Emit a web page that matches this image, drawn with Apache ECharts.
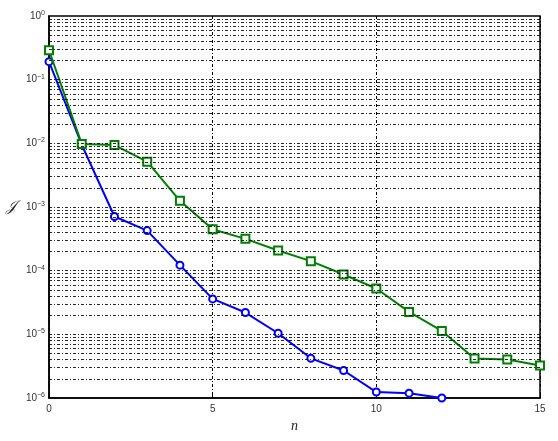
<!DOCTYPE html>
<html>
<head>
<meta charset="utf-8">
<script src="https://cdn.jsdelivr.net/npm/echarts@6/dist/echarts.min.js"></script>
<style>
html,body{margin:0;padding:0;background:#fff;}
#c{width:558px;height:441px;}
</style>
</head>
<body>
<div id="c"></div>
<script>
var nValues = [0,1,2,3,4,5,6,7,8,9,10,11,12,13,14,15];
var blueJ = [0.192, 0.0095, 7.1e-4, 4.26e-4, 1.22e-4, 3.6e-5, 2.2e-5, 1.04e-5, 4.2e-6, 2.7e-6, 1.24e-6, 1.19e-6, 1.0e-6];
var greenJ = [0.29, 0.0098, 0.0094, 0.00516, 1.25e-3, 4.48e-4, 3.16e-4, 2.07e-4, 1.41e-4, 8.7e-5, 5.24e-5, 2.25e-5, 1.13e-5, 4.17e-6, 4.02e-6, 3.24e-6];
var yExponents = [0,-1,-2,-3,-4,-5,-6];
var xTicks = [0,5,10,15];

var gridLevels = [];
for (var d = -6; d <= -1; d++) {
  for (var m = 1; m <= 9; m++) {
    if (d === -6 && m === 1) continue;
    gridLevels.push(Number((m * Math.pow(10, d)).toPrecision(3)));
  }
}
var dashDot = [3, 2, 1, 2];

var chart = echarts.init(document.getElementById('c'));
chart.setOption({
  animation: false,
  backgroundColor: '#fff',
  grid: {left: 49, right: 18, top: 16, bottom: 43, show: true, borderColor: '#000', borderWidth: 1.5, backgroundColor: 'transparent'},
  xAxis: {
    type: 'value', min: 0, max: 15, interval: 5,
    name: 'n', nameLocation: 'middle', nameGap: 17,
    nameTextStyle: {fontFamily: 'Liberation Serif', fontStyle: 'italic', fontSize: 14, color: '#222'},
    axisLine: {show: true, lineStyle: {color: '#000', width: 1.5}},
    axisTick: {show: true, inside: true, length: 4, lineStyle: {color: '#000'}},
    axisLabel: {fontFamily: 'Liberation Sans', fontSize: 10, color: '#333', margin: 6,
      formatter: function (v) { return xTicks.indexOf(v) >= 0 ? String(v) : ''; }},
    splitLine: {show: true, lineStyle: {color: '#000', width: 1, type: dashDot}}
  },
  yAxis: {
    type: 'log', logBase: 10, min: 1e-6, max: 1,
    name: '\uD835\uDCA5', nameLocation: 'middle', nameGap: 33, nameRotate: 0,
    nameTextStyle: {fontFamily: 'DejaVu Serif', fontStyle: 'italic', fontSize: 15, color: '#222'},
    axisLine: {show: true, lineStyle: {color: '#000', width: 1.5}},
    axisTick: {show: false},
    splitLine: {show: false},
    axisLabel: {
      margin: 4,
      formatter: function (v) {
        var e = Math.round(Math.log(v) / Math.LN10);
        if (yExponents.indexOf(e) < 0) return '';
        return '{b|10}{s|' + (e === 0 ? '0' : '\u2212' + Math.abs(e)) + '}';
      },
      rich: {
        b: {fontFamily: 'Liberation Sans', fontSize: 10, color: '#333'},
        s: {fontFamily: 'Liberation Sans', fontSize: 7, color: '#333', padding: [0, 0, 6, 0]}
      }
    }
  },
  series: [
    {
      type: 'line', data: [], silent: true, z: 1,
      markLine: {
        silent: true, symbol: 'none', animation: false, precision: 12,
        label: {show: false},
        lineStyle: {color: '#000', width: 1, type: dashDot, opacity: 0.85},
        emphasis: {disabled: true},
        data: gridLevels.map(function (v) { return {yAxis: v}; })
      }
    },
    {
      type: 'line', z: 3,
      data: blueJ.map(function (v, i) { return [nValues[i], v]; }),
      symbol: 'emptyCircle', symbolSize: 7,
      lineStyle: {color: '#0000ff', width: 2},
      itemStyle: {color: '#0000ff', borderWidth: 2}
    },
    {
      type: 'line', z: 4,
      data: greenJ.map(function (v, i) { return [nValues[i], v]; }),
      symbol: 'emptyRect', symbolSize: 8,
      lineStyle: {color: '#008000', width: 2},
      itemStyle: {color: '#008000', borderWidth: 2}
    }
  ]
});
</script>
</body>
</html>
